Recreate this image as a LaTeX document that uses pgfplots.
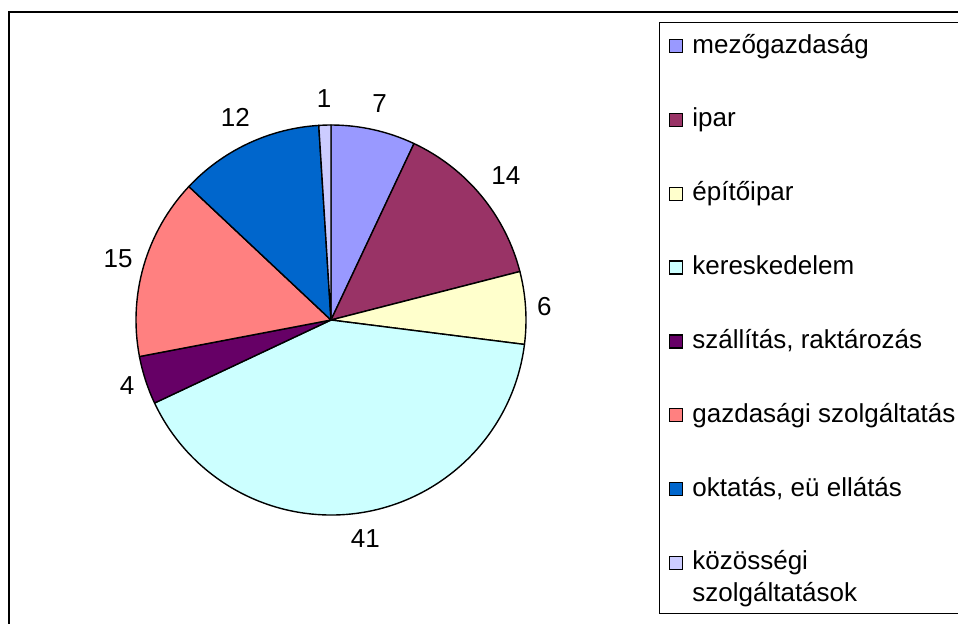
\documentclass[border=0pt]{standalone}
\usepackage{fontspec}
\setmainfont{Liberation Sans}
\usepackage{pgfplots}
\pgfplotsset{compat=1.18}

\definecolor{cMezo}{HTML}{9999FF}
\definecolor{cIpar}{HTML}{993366}
\definecolor{cEpito}{HTML}{FFFFCC}
\definecolor{cKer}{HTML}{CCFFFF}
\definecolor{cSzall}{HTML}{660066}
\definecolor{cGazd}{HTML}{FF8080}
\definecolor{cOkt}{HTML}{0066CC}
\definecolor{cKoz}{HTML}{CCCCFF}

% value/colour, clockwise from 12 o'clock
\def\pieslices{7/cMezo,14/cIpar,6/cEpito,41/cKer,4/cSzall,15/cGazd,12/cOkt,1/cKoz}

\begin{document}
\begin{tikzpicture}[font=\fontsize{13}{15.6}\selectfont]
\begin{axis}[
  scale only axis, width=479pt, height=311.5pt,
  xmin=0, xmax=958, ymin=0, ymax=623,
  hide axis, clip=false,
]
  % chart frame (only left and top edges are inside the picture)
  \draw[line width=1pt] (axis cs:9,-10) -- (axis cs:9,611) -- (axis cs:970,611);

  % pie
  \xdef\cum{0}
  \foreach \v/\c in \pieslices {
    \pgfmathsetmacro\a{90-3.6*\cum}
    \pgfmathsetmacro\b{90-3.6*(\cum+\v)}
    \pgfmathsetmacro\m{(\a+\b)/2}
    \pgfmathsetmacro\an{\m+180}
    \edef\tmp{%
      \noexpand\filldraw[fill=\c, draw=black, line width=0.7pt, line join=round]
        (axis cs:331,303) -- ++(\a:97.5pt) arc[start angle=\a, end angle=\b, radius=97.5pt] -- cycle;
      \noexpand\path (axis cs:331,303) ++(\m:100pt) node[anchor=\an, inner xsep=3pt, inner ysep=6pt] {\v};
    }
    \tmp
    \pgfmathparse{\cum+\v}\xdef\cum{\pgfmathresult}
  }

  % legend
  \draw[line width=0.5pt] (axis cs:970,601) -- (axis cs:659,601) -- (axis cs:659,10) -- (axis cs:970,10);
  \foreach \i/\c/\t in {0/cMezo/mezőgazdaság, 1/cIpar/ipar, 2/cEpito/építőipar,
      3/cKer/kereskedelem, 4/cSzall/{szállítás, raktározás},
      5/cGazd/gazdasági szolgáltatás, 6/cOkt/{oktatás, eü ellátás}, 7/cKoz/közösségi} {
    \pgfmathsetmacro\yy{623-(46+73.85*\i)}
    \pgfmathsetmacro\yb{\yy-7}
    \edef\tmp{%
      \noexpand\filldraw[fill=\c, draw=black, line width=0.6pt]
        (axis cs:669.5,\yy-6.5) rectangle (axis cs:682.5,\yy+6.5);
      \noexpand\node[anchor=base west, inner sep=0pt] at (axis cs:692,\yb) {\t};
    }
    \tmp
  }
  \node[anchor=base west, inner sep=0pt] at (axis cs:692,22) {szolgáltatások};
\end{axis}
\pgfresetboundingbox
\path[use as bounding box] (0,0) rectangle (479pt,311.5pt);
\end{tikzpicture}
\end{document}
